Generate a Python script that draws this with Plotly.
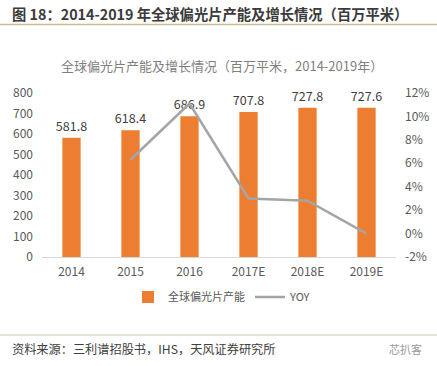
import plotly.graph_objects as go

# ---- data ----
years = ["2014", "2015", "2016", "2017E", "2018E", "2019E"]
capacity = [581.8, 618.4, 686.9, 707.8, 727.8, 727.6]
yoy_years = ["2015", "2016", "2017E", "2018E", "2019E"]
yoy = [6.3, 11.1, 3.0, 2.8, 0.0]
left_ticks = [0, 100, 200, 300, 400, 500, 600, 700, 800]
right_ticks = [-2, 0, 2, 4, 6, 8, 10, 12]
right_tick_labels = ["-2%", "0%", "2%", "4%", "6%", "8%", "10%", "12%"]

header = "图 18：2014-2019 年全球偏光片产能及增长情况（百万平米）"
chart_title = "全球偏光片产能及增长情况（百万平米，2014-2019年）"
source = "资料来源：三利谱招股书，IHS，天风证券研究所"
watermark = "芯扒客"

W, H = 437, 366
L, R, T, B = 42, 396, 93, 257  # plot area in pixels
FONT = "Noto Sans CJK SC"


def px(x):
    return (x - L) / (R - L)


def py(y):
    return (B - y) / (B - T)


fig = go.Figure()
fig.add_trace(go.Bar(
    x=years, y=capacity, name="全球偏光片产能",
    marker=dict(color="#ED7D31", line=dict(width=0)),
    width=0.31,
    text=[f"{v:.1f}" for v in capacity], textposition="outside",
    constraintext="none",
    textfont=dict(size=12.5, color="#404040", family=FONT),
    cliponaxis=False,
))
fig.add_trace(go.Scatter(
    x=yoy_years, y=yoy, name="YOY", yaxis="y2", mode="lines",
    line=dict(color="#A5A5A5", width=2.5),
))

annotations = [
    dict(text=header, x=px(10), y=py(13), xref="paper", yref="paper",
         xanchor="left", yanchor="middle", showarrow=False,
         font=dict(size=14.3, color="#3b3b3b", family=FONT, weight="bold")),
    dict(text=chart_title, x=px(222), y=py(65), xref="paper", yref="paper",
         xanchor="center", yanchor="middle", showarrow=False,
         font=dict(size=13, color="#7f7f7f", family=FONT)),
    dict(text=source, x=px(10), y=py(349), xref="paper", yref="paper",
         xanchor="left", yanchor="middle", showarrow=False,
         font=dict(size=12.2, color="#404040", family=FONT)),
    dict(text=watermark, x=px(424), y=py(349), xref="paper", yref="paper",
         xanchor="right", yanchor="middle", showarrow=False,
         font=dict(size=11, color="#9a9a9a", family=FONT)),
]

shapes = [
    dict(type="line", xref="paper", yref="paper", x0=px(0), x1=px(437),
         y0=py(24.5), y1=py(24.5), line=dict(color="#cbbb92", width=1.5)),
    dict(type="line", xref="paper", yref="paper", x0=px(0), x1=px(437),
         y0=py(335), y1=py(335), line=dict(color="#c9c9b4", width=1.2)),
]

fig.update_layout(
    width=W, height=H,
    margin=dict(l=L, r=W - R, t=T, b=H - B, pad=0, autoexpand=False),
    paper_bgcolor="white", plot_bgcolor="white",
    font=dict(family=FONT, size=12, color="#595959"),
    showlegend=True,
    legend=dict(orientation="h", x=px(222), y=py(297), xanchor="center",
                yanchor="middle", font=dict(size=11, color="#595959"),
                itemwidth=30, tracegroupgap=0),
    xaxis=dict(type="category", categoryorder="array", categoryarray=years,
               showline=True, linecolor="#d9d9d9", linewidth=1,
               ticks="", showgrid=False, zeroline=False, automargin=False,
               tickfont=dict(size=12, color="#595959"), ticklabelstandoff=4),
    yaxis=dict(range=[0, 800], tickvals=left_ticks, showgrid=False,
               zeroline=False, showline=False, ticks="", automargin=False,
               tickfont=dict(size=12, color="#595959"), ticklabelstandoff=8),
    yaxis2=dict(range=[-2, 12], tickvals=right_ticks, ticktext=right_tick_labels,
                overlaying="y", side="right", showgrid=False, zeroline=False,
                showline=False, ticks="", automargin=False,
                tickfont=dict(size=12, color="#595959"), ticklabelstandoff=8),
    annotations=annotations,
    shapes=shapes,
)

fig.write_html(
    "out.html",
    config={"displayModeBar": False},
    post_script="document.body.style.margin='0';document.body.style.padding='0';",
)
